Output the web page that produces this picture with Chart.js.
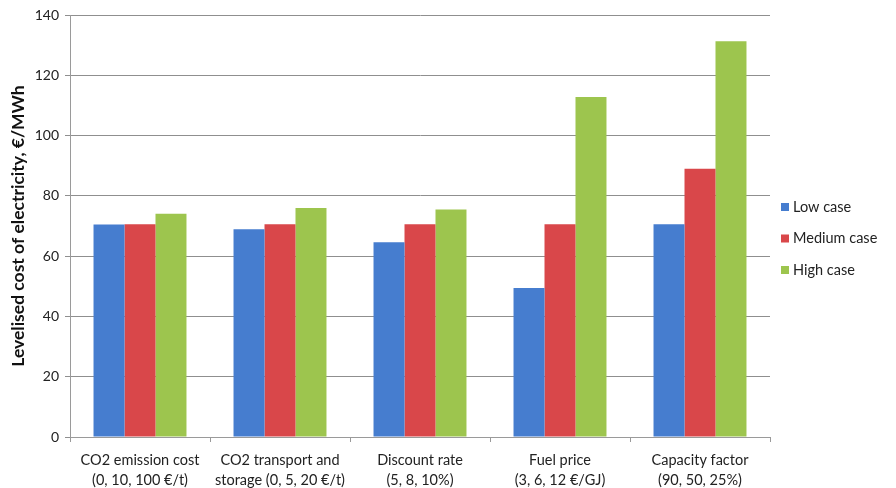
<!DOCTYPE html>
<html>
<head>
<meta charset="utf-8">
<script src="https://cdn.jsdelivr.net/npm/chart.js@4"></script>
<style>
  html, body { margin: 0; padding: 0; background: #fff; }
  #wrap { width: 896px; height: 488px; position: relative; }
</style>
</head>
<body>
<div id="wrap"><canvas id="c" width="896" height="488"></canvas></div>
<script>
// Sensitivity of the levelised cost of electricity to single parameters
const categories = [
  ["CO2 emission cost", "(0, 10, 100 €/t)"],
  ["CO2 transport and", "storage (0, 5, 20 €/t)"],
  ["Discount rate", "(5, 8, 10%)"],
  ["Fuel price", "(3, 6, 12 €/GJ)"],
  ["Capacity factor", "(90, 50, 25%)"]
];
const seriesNames = ["Low case", "Medium case", "High case"];
const lowCase    = [70.5, 68.9, 64.6, 49.4, 70.6];
const mediumCase = [70.6, 70.6, 70.6, 70.6, 89.0];
const highCase   = [74.1, 76.0, 75.5, 112.8, 131.3];
const yTicks = [0, 20, 40, 60, 80, 100, 120, 140];
const seriesColors = ["#467dcf", "#d9474a", "#9dc54e"];

const FONT = "Lato, 'Open Sans', sans-serif";

// Legend drawn beside the plot, vertically stacked
const sideLegend = {
  id: "sideLegend",
  afterDraw(chart) {
    const ctx = chart.ctx;
    ctx.save();
    ctx.font = "14.5px " + FONT;
    ctx.textBaseline = "middle";
    chart.data.datasets.forEach((ds, i) => {
      const y = 207 + i * 31.5;
      ctx.fillStyle = ds.backgroundColor;
      ctx.fillRect(781, y - 4, 8, 8);
      ctx.fillStyle = "#222";
      ctx.fillText(ds.label, 793, y);
    });
    ctx.restore();
  }
};

new Chart(document.getElementById("c"), {
  type: "bar",
  data: {
    labels: categories,
    datasets: [
      { label: seriesNames[0], data: lowCase,    backgroundColor: seriesColors[0] },
      { label: seriesNames[1], data: mediumCase, backgroundColor: seriesColors[1] },
      { label: seriesNames[2], data: highCase,   backgroundColor: seriesColors[2] }
    ]
  },
  options: {
    responsive: false,
    animation: false,
    devicePixelRatio: 1,
    layout: { padding: { top: 15, right: 126, left: 8, bottom: 0 } },
    datasets: { bar: { categoryPercentage: 0.664, barPercentage: 1.0 } },
    plugins: {
      legend: { display: false },
      tooltip: { enabled: false }
    },
    scales: {
      x: {
        grid: { drawOnChartArea: false, drawTicks: true, tickLength: 5, color: "#9a9a9a", offset: true },
        border: { color: "#9a9a9a", width: 1 },
        ticks: { color: "#222", font: { family: FONT, size: 14.5, lineHeight: 1.38 }, padding: 8, maxRotation: 0, autoSkip: false },
        afterFit(scale) { scale.height = 51; }
      },
      y: {
        min: 0, max: 140,
        afterBuildTicks(scale) { scale.ticks = yTicks.map(v => ({ value: v })); },
        grid: { color: "#8f8f8f", tickLength: 5, lineWidth: 1 },
        border: { color: "#9a9a9a", width: 1 },
        ticks: { color: "#222", font: { family: FONT, size: 14 }, padding: 6 },
        title: {
          display: true,
          text: "Levelised cost of electricity, €/MWh",
          color: "#111",
          font: { family: FONT, size: 17.5, weight: "bold" },
          padding: { top: 0, bottom: 2 }
        },
        afterFit(scale) { scale.width = 62; }
      }
    }
  },
  plugins: [sideLegend]
});
</script>
</body>
</html>
